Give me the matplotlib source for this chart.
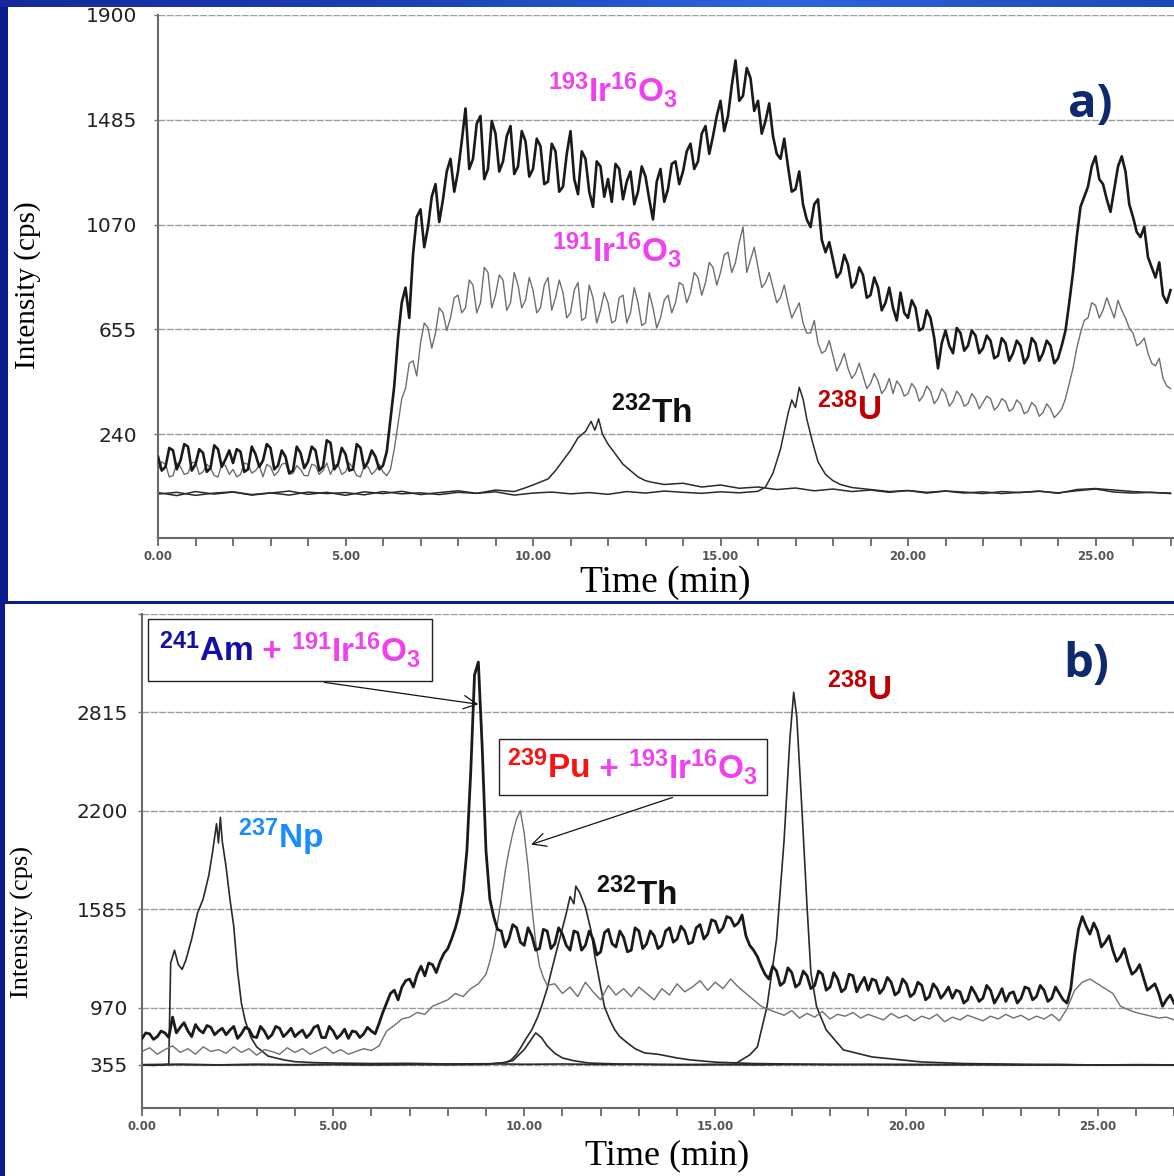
import numpy as np
import matplotlib.pyplot as plt
from matplotlib.patches import Rectangle
from matplotlib.colors import LinearSegmentedColormap
from matplotlib.offsetbox import TextArea, HPacker, AnnotationBbox

plt.rcParams['mathtext.default'] = 'regular'

# ---------------- panel a) ----------------
# readings every 0.2 min (main) and the in-between readings (mid, at +0.1 min)
ir193_a_main = [150, 110, 175, 135, 190, 120, 165, 105, 180, 140,
                125, 170, 100, 160, 135, 185, 115, 150, 95, 165,
                130, 175, 110, 205, 120, 160, 100, 185, 130, 150,
                115, 300, 620, 820, 950, 1130, 1060, 1230, 1170, 1330,
                1280, 1530, 1330, 1500, 1290, 1430, 1320, 1460, 1300, 1400,
                1290, 1380, 1240, 1360, 1220, 1440, 1190, 1330, 1140, 1300,
                1250, 1310, 1170, 1280, 1200, 1260, 1090, 1290, 1210, 1320,
                1280, 1390, 1320, 1460, 1420, 1560, 1500, 1720, 1580, 1650,
                1560, 1480, 1420, 1330, 1300, 1210, 1150, 1060, 1170, 960,
                930, 880, 910, 840, 870, 790, 820, 760, 740, 800,
                700, 740, 660, 700, 500, 650, 560, 640, 590, 630,
                580, 610, 550, 600, 560, 590, 545, 600, 560, 590,
                540, 650, 880, 1140, 1220, 1340, 1230, 1120, 1300, 1280,
                1100, 1020, 940, 860, 790, 810]
ir193_a_mid = [95, 185, 100, 200, 95, 180, 90, 195, 110, 175,
               180, 90, 190, 110, 200, 100, 175, 85, 190, 105,
               190, 95, 215, 100, 185, 95, 200, 105, 175, 100,
               170, 430, 760, 700, 1100, 980, 1180, 1080, 1280, 1200,
               1400, 1290, 1470, 1250, 1480, 1280, 1420, 1270, 1440, 1260,
               1410, 1230, 1390, 1200, 1350, 1250, 1360, 1200, 1320, 1180,
               1160, 1290, 1240, 1150, 1300, 1170, 1240, 1160, 1310, 1230,
               1360, 1290, 1430, 1350, 1500, 1440, 1620, 1560, 1690, 1520,
               1430, 1550, 1350, 1410, 1200, 1280, 1090, 1150, 1010, 1000,
               860, 950, 820, 900, 780, 860, 730, 820, 690, 720,
               770, 650, 730, 620, 600, 590, 660, 570, 650, 560,
               630, 540, 620, 530, 610, 520, 620, 530, 610, 520,
               590, 760, 1020, 1180, 1300, 1250, 1170, 1210, 1340, 1150,
               1040, 1060, 900, 920, 760]

ir191_a_main = [95, 120, 75, 110, 85, 130, 90, 105, 70, 115,
                100, 80, 120, 95, 70, 110, 90, 125, 85, 100,
                75, 115, 95, 80, 120, 90, 105, 70, 110, 95,
                90, 100, 280, 420, 530, 600, 660, 640, 720, 700,
                790, 740, 830, 760, 880, 790, 850, 760, 830, 770,
                810, 740, 860, 780, 800, 720, 840, 700, 780, 730,
                760, 690, 790, 720, 760, 680, 740, 700, 790, 760,
                830, 800, 860, 840, 900, 880, 960, 920, 1060, 930,
                900, 840, 820, 780, 760, 730, 680, 640, 600, 570,
                550, 520, 500, 480, 470, 440, 450, 420, 400, 430,
                400, 420, 390, 410, 380, 400, 370, 390, 360, 380,
                365, 380, 350, 370, 340, 360, 330, 350, 325, 340,
                320, 380, 500, 640, 700, 750, 730, 740, 770, 700,
                640, 600, 560, 510, 460, 420]
ir191_a_mid = [130, 70, 125, 80, 125, 80, 120, 75, 120, 80,
               70, 125, 85, 115, 120, 75, 120, 80, 115, 75,
               120, 80, 125, 115, 80, 125, 75, 115, 80, 120,
               75, 180, 380, 520, 470, 680, 580, 740, 650, 780,
               720, 850, 720, 900, 740, 870, 730, 880, 740, 860,
               720, 830, 730, 850, 700, 810, 690, 830, 680, 800,
               680, 780, 680, 820, 670, 800, 660, 770, 720, 840,
               760, 880, 790, 920, 830, 950, 880, 1000, 880, 980,
               820, 880, 760, 830, 700, 760, 640, 690, 560, 610,
               490, 560, 460, 520, 420, 480, 400, 460, 450, 390,
               440, 370, 430, 360, 420, 350, 410, 350, 400, 340,
               390, 335, 380, 330, 375, 320, 365, 310, 360, 305,
               340, 440, 580, 690, 760, 700, 780, 700, 730, 660,
               590, 620, 520, 540, 430]

t_th_a = [0, 0.5, 1, 1.5, 2, 2.5, 3, 3.5, 4, 4.5, 5, 5.5, 6, 6.5, 7, 7.5, 8, 8.5, 9, 9.5,
          9.8, 10.0, 10.2, 10.4, 10.6, 10.8, 11.0, 11.2, 11.4, 11.55, 11.65, 11.75, 11.85,
          12.0, 12.2, 12.4, 12.6, 12.8, 13.0, 13.2, 13.5,
          14, 14.5, 15, 15.5, 16, 16.5, 17, 17.5, 18, 18.5, 19, 19.5, 20, 20.5, 21, 21.5,
          22, 22.5, 23, 23.5, 24, 24.5, 25, 25.5, 26, 26.5, 27]
th_a = [8, -4, 12, 2, 10, -2, 6, 14, 1, 9, -3, 11, 4, 13, 0, 8, 15, 5, 18, 12,
        27, 38, 50, 62, 95, 135, 175, 225, 250, 290, 255, 300, 240,
        200, 160, 120, 95, 70, 55, 48, 40,
        45, 30, 38, 25, 30, 20, 26, 15, 22, 12, 18, 9, 16, 6, 14, 10,
        4, 12, 8, 14, 5, 20, 24, 18, 12, 8, 6]

t_u_a = [0, 0.5, 1, 1.5, 2, 2.5, 3, 3.5, 4, 4.5, 5, 5.5, 6, 6.5, 7, 7.5, 8, 8.5, 9, 9.5,
         10, 10.5, 11, 11.5, 12, 12.5, 13, 13.5, 14, 14.5, 15, 15.5, 16,
         16.2, 16.4, 16.6, 16.8, 16.9, 17.0, 17.1, 17.2, 17.3, 17.45, 17.6, 17.8, 18.0, 18.2, 18.5,
         19, 19.5, 20, 20.5, 21, 21.5, 22, 22.5, 23, 23.5, 24, 24.5, 25, 25.5, 26, 26.5, 27]
u_a = [2, 9, -3, 6, 11, 0, 7, -2, 10, 4, 8, -1, 12, 3, 7, 0, 9, 5, 11, -2,
       6, 10, 3, 8, 1, 12, 6, 14, 9, 5, 11, 7, 13,
       30, 85, 180, 320, 375, 345, 425, 380, 300, 210, 130, 80, 55, 40, 28,
       20, 12, 16, 9, 14, 6, 11, 4, 9, 13, 7, 15, 22, 10, 6, 9, 4]

yticks_a = [240, 655, 1070, 1485, 1900]

# ---------------- panel b) ----------------
k_b_main0 = [640, 690, 660, 700, 870, 760, 720, 790, 700, 760,
             720, 680, 770, 690, 740, 650, 720, 680, 750, 700,
             660, 730, 690, 780, 650, 720, 680, 640, 710, 690,
             720, 800, 1000, 1080, 1100, 1150, 1180, 1170, 1240, 1260,
             1340, 1470]
k_b_mid0 = [700, 630, 720, 650, 700, 810, 660, 730, 780, 680,
            750, 730, 640, 760, 660, 770, 640, 770, 660, 750,
            700, 650, 760, 650, 770, 640, 740, 720, 650, 760,
            690, 920, 1060, 1020, 1140, 1100, 1230, 1250, 1190, 1310,
            1400]
k_b_peak = [1560, 1700, 1950, 2440, 3050, 3130, 2600, 1950, 1650, 1540]  # 8.3 ... 9.2
k_b_93 = 1460
k_b_main1 = [1450, 1400, 1470, 1360, 1420, 1340, 1450, 1370, 1430, 1330,
             1440, 1360, 1400, 1320, 1460, 1350, 1410, 1330, 1450, 1370,
             1420, 1360, 1470, 1400, 1450, 1380, 1490, 1430, 1510, 1470,
             1530, 1500, 1420, 1330, 1230, 1150, 1200, 1130, 1190, 1120,
             1170, 1110, 1180, 1100, 1150, 1090, 1170, 1120, 1080, 1140,
             1090, 1130, 1070, 1120, 1060, 1110, 1040, 1090, 1060, 1030,
             1070, 1020, 1060, 1030, 1080, 1040, 1010, 1070, 1030, 1090,
             1040, 1080, 1030, 1060, 1000, 1300, 1540, 1430, 1450, 1380,
             1330, 1290, 1250, 1200, 1160, 1100, 1060, 1020, 1000]
k_b_mid1 = [1350, 1490, 1380, 1470, 1330, 1460, 1340, 1470, 1360, 1450,
            1330, 1450, 1300, 1440, 1370, 1450, 1320, 1470, 1340, 1450,
            1340, 1450, 1380, 1480, 1370, 1470, 1400, 1520, 1440, 1540,
            1480, 1550, 1360, 1290, 1180, 1230, 1110, 1220, 1100, 1200,
            1090, 1200, 1080, 1190, 1070, 1180, 1070, 1160, 1150, 1060,
            1160, 1050, 1150, 1040, 1130, 1020, 1120, 1030, 1100, 1080,
            1000, 1100, 1010, 1110, 1000, 1090, 1060, 1000, 1100, 1020,
            1110, 1010, 1100, 1020, 1090, 1460, 1480, 1500, 1350, 1420,
            1260, 1340, 1180, 1240, 1080, 1120, 980, 1050]

t_g_b = np.round(np.concatenate([np.arange(46) * 0.2, 9.1 + np.arange(16) * 0.1,
                                 10.8 + np.arange(82) * 0.2]), 2)
g_b = [500, 540, 470, 520, 560, 490, 530, 470, 550, 500,
       520, 480, 550, 490, 530, 460, 520, 500, 470, 540,
       490, 530, 470, 510, 550, 480, 520, 470, 500, 530,
       510, 560, 720, 780, 850, 870, 920, 900, 980, 1000,
       1020, 1060, 1040, 1090, 1120, 1180,
       1260, 1360, 1500, 1650, 1820, 1950, 2060, 2150, 2200, 2060, 1850, 1600, 1380, 1230, 1160, 1110,
       1120, 1060, 1100, 1040, 1130, 1070, 1020, 1110, 1050, 1090,
       1040, 1100, 1060, 1020, 1090, 1050, 1120, 1070, 1100, 1140,
       1080, 1130, 1090, 1150, 1100, 1060, 1020, 980, 950, 920,
       890, 940, 860, 910, 870, 930, 850, 900, 880, 920,
       860, 900, 870, 840, 910, 860, 890, 830, 880, 850,
       900, 820, 870, 840, 890, 860, 830, 880, 850, 900,
       860, 890, 840, 880, 850, 900, 830, 960, 1080, 1130,
       1150, 1120, 1090, 1060, 980, 950, 920, 900, 880, 860, 870, 840]

t_np_b = [0, 0.3, 0.6, 0.7, 0.75, 0.85, 0.95, 1.05, 1.15, 1.3, 1.45, 1.6, 1.75, 1.85, 1.95,
          2.0, 2.05, 2.1, 2.2, 2.3, 2.4, 2.5, 2.6, 2.7, 2.85, 3.0, 3.3, 3.7, 4.0, 4.5,
          5, 6, 7, 8, 9, 10, 11, 12, 13, 14, 15, 16, 17, 18, 19, 20, 21, 22, 23, 24, 25, 26, 27]
np_b = [355, 350, 358, 362, 1250, 1330, 1240, 1210, 1270, 1400, 1560, 1650, 1800, 1950, 2120,
        2000, 2160, 2010, 1850, 1650, 1480, 1200, 1000, 830, 650, 550, 450, 410, 390, 380,
        375, 370, 372, 365, 368, 362, 365, 360, 362, 358, 360, 356, 360, 358, 362, 357, 360,
        358, 356, 358, 355, 357, 355]

t_th_b = [0, 1, 2, 3, 4, 5, 6, 7, 8, 9, 9.5, 9.66, 9.8, 9.92, 10.05, 10.2, 10.35, 10.45, 10.6,
          10.7, 10.85, 10.97, 11.1, 11.2, 11.3, 11.35, 11.45, 11.6, 11.75, 11.85, 12.0, 12.1,
          12.25, 12.37, 12.5, 12.7, 12.9, 13.15, 13.5, 14.0, 14.35, 15, 16, 17, 18, 19, 20,
          21, 22, 23, 24, 25, 26, 27]
th_b = [358, 362, 356, 360, 357, 361, 356, 359, 362, 365, 380, 409, 470, 549, 640, 733, 870,
        976, 1090, 1189, 1330, 1439, 1560, 1665, 1620, 1730, 1690, 1600, 1450, 1289, 1100,
        976, 830, 733, 660, 592, 530, 484, 470, 430, 409, 385, 370, 365, 362, 358, 361, 357,
        360, 356, 358, 355, 357, 355]

t_u_b = [0, 1, 2, 3, 4, 5, 6, 7, 8, 9, 9.4, 9.7, 10.0, 10.15, 10.3, 10.45, 10.6, 10.8, 11.0,
         11.3, 11.7, 12.5, 13.5, 14.5, 15.5, 15.9, 16.1, 16.35, 16.6, 16.8, 16.95, 17.05,
         17.13, 17.27, 17.4, 17.5, 17.65, 17.9, 18.35, 19.1, 20.4, 21.5, 22.5, 23.5, 24.5,
         25.5, 26.5, 27]
u_b = [356, 359, 355, 361, 357, 360, 358, 362, 357, 360, 375, 400, 520, 610, 700, 650, 560,
       480, 430, 400, 375, 365, 360, 358, 362, 463, 549, 976, 1395, 2021, 2647, 2941, 2790,
       2190, 1602, 1189, 976, 733, 517, 441, 387, 370, 365, 360, 356, 355, 357, 355]

yticks_b = [355, 970, 1585, 2200, 2815, 3430]
ylabels_b = ['355', '970', '1585', '2200', '2815', '']

xticks = [0, 5, 10, 15, 20, 25]

# put main + in-between readings on one 0.1-min time axis
t_fine = np.round(np.arange(271) * 0.1, 1)
ir193_a = np.empty(271)
ir193_a[0::2] = ir193_a_main
ir193_a[1::2] = ir193_a_mid
ir191_a = np.empty(271)
ir191_a[0::2] = ir191_a_main
ir191_a[1::2] = ir191_a_mid
k_b = np.empty(271)
k_b[0:83:2] = k_b_main0
k_b[1:83:2] = k_b_mid0
k_b[83:93] = k_b_peak
k_b[93] = k_b_93
k_b[94::2] = k_b_main1
k_b[95::2] = k_b_mid1

# ---------------- figure ----------------
W, H = 1174, 1176
fig = plt.figure(figsize=(W / 100, H / 100), dpi=100, facecolor='#0b1d8c')

# white picture areas of the slide
fig.patches.append(Rectangle((8 / W, 1 - 601 / H), 1, 594 / H, transform=fig.transFigure,
                             fc='white', ec='none', zorder=-2))
fig.patches.append(Rectangle((5 / W, 0), 1, 572 / H, transform=fig.transFigure,
                             fc='white', ec='none', zorder=-2))
strip = fig.add_axes([0, 1 - 7 / H, 1, 7 / H])
strip.imshow(np.linspace(0, 1, 256)[None, :], aspect='auto',
             cmap=LinearSegmentedColormap.from_list('slide', ['#142a9c', '#1b3fb4', '#2d66dc', '#1d47b8']))
strip.axis('off')

grey_grid = dict(color='#9c9c9c', lw=1.0, ls=(0, (5, 1)))
mag = '#f040f0'
lab_font = dict(family='Liberation Sans', weight='bold', size=24)


def style_axes(ax, ypad):
    for s in ['top', 'right']:
        ax.spines[s].set_visible(False)
    for s in ['left', 'bottom']:
        ax.spines[s].set_color('#6a6a6a')
        ax.spines[s].set_linewidth(1.5)
    ax.set_facecolor('none')
    ax.grid(axis='y', **grey_grid)
    ax.set_xticks(xticks)
    ax.set_xticklabels(['%.2f' % v for v in xticks], fontsize=8.5, fontweight='bold', color='#555555')
    ax.set_xticks(range(0, 28), minor=True)
    ax.tick_params(axis='x', which='both', direction='out', length=6, width=1.3, color='#666666', pad=3)
    ax.tick_params(axis='y', direction='out', length=3, width=1, color='#777777', pad=ypad,
                   labelsize=14.5, labelcolor='#222222')
    ax.tick_params(axis='y', which='minor', left=False)


# ---- panel a ----
ax1 = fig.add_axes([158 / W, 1 - 538 / H, 1 - 158 / W, 523 / H])
ax1.plot(t_th_a, th_a, color='#2a2a2a', lw=1.1, zorder=2)
ax1.plot(t_u_a, u_a, color='#2a2a2a', lw=1.1, zorder=2)
ax1.plot(t_fine, ir191_a, color='#6e6e6e', lw=1.0, zorder=3)
ax1.plot(t_fine, ir193_a, color='#1a1a1a', lw=1.9, zorder=4)
ax1.set_xlim(0, 1016 / 37.5)
ax1.set_ylim(-172, 1900)
ax1.set_yticks(yticks_a)
ax1.set_yticklabels([str(v) for v in yticks_a])
style_axes(ax1, 12)

ax1.text(10.4, 1604, r'$^{193}$Ir$^{16}$O$_3$', color=mag, ha='left', va='center', **lab_font)
ax1.text(10.51, 969, r'$^{191}$Ir$^{16}$O$_3$', color=mag, ha='left', va='center', **lab_font)
ax1.text(12.08, 323, r'$^{232}$Th', color='#111111', ha='left', va='center', **lab_font)
ax1.text(17.57, 335, r'$^{238}$U', color='#c00000', ha='left', va='center', **lab_font)
ax1.text(24.85, 1544, 'a)', color='#0d2a6e', ha='center', va='center',
         family='Open Sans', weight='bold', size=34)

# ---- panel b ----
k = 57 / 98.3


def fwd(v):
    v = np.asarray(v, dtype=float)
    return np.where(v >= 970, v, 970 - (970 - v) * k)


def inv(u):
    u = np.asarray(u, dtype=float)
    return np.where(u >= 970, u, 970 - (970 - u) / k)


ax2 = fig.add_axes([142 / W, 1 - 1108 / H, 1 - 142 / W, 494 / H])
ax2.set_yscale('function', functions=(fwd, inv))
ax2.plot(t_np_b, np_b, color='#2a2a2a', lw=1.2, zorder=2)
ax2.plot(t_th_b, th_b, color='#2a2a2a', lw=1.2, zorder=2)
ax2.plot(t_u_b, u_b, color='#2a2a2a', lw=1.2, zorder=2)
ax2.plot(t_g_b, g_b, color='#6e6e6e', lw=1.0, zorder=3)
ax2.plot(t_fine, k_b, color='#1a1a1a', lw=2.0, zorder=4)
ax2.set_xlim(0, 1032 / 38.4)
ax2.set_ylim(-109, 3430)
ax2.set_yticks(yticks_b)
ax2.set_yticklabels(ylabels_b)
ax2.yaxis.set_minor_locator(plt.NullLocator())
style_axes(ax2, 7)

ax2.text(2.5, 2033, r'$^{237}$Np', color='#1a8cff', ha='left', va='center', **lab_font)
ax2.text(11.875, 1677, r'$^{232}$Th', color='#111111', ha='left', va='center', **lab_font)
ax2.text(17.92, 2959, r'$^{238}$U', color='#c00000', ha='left', va='center', **lab_font)
ax2.text(24.69, 3116, 'b)', color='#0d2a6e', ha='center', va='center',
         family='Open Sans', weight='bold', size=34)


def iso_box(ax, parts, xy, pad):
    areas = [TextArea(s, textprops=dict(color=c, **lab_font)) for s, c in parts]
    pack = HPacker(children=areas, align='baseline', pad=pad, sep=0)
    ab = AnnotationBbox(pack, xy, xycoords='data', frameon=True, box_alignment=(0.5, 0.5),
                        pad=0, annotation_clip=False,
                        bboxprops=dict(ec='#222222', lw=1.0, fc='white'))
    ab.set_zorder(6)
    ax.add_artist(ab)


iso_box(ax2, [(r'$^{241}$Am', '#1010a8'), (' + ', mag), (r'$^{191}$Ir$^{16}$O$_3$', mag)],
        (3.88, 3207), 8)
iso_box(ax2, [(r'$^{239}$Pu', '#ff1010'), (' + ', mag), (r'$^{193}$Ir$^{16}$O$_3$', mag)],
        (12.84, 2475), 6)

arrow = dict(arrowstyle='->', color='#111111', lw=0.9, shrinkA=0, shrinkB=0, mutation_scale=24)
ax2.annotate('', xy=(8.8, 2866), xytext=(4.77, 3003), arrowprops=arrow, annotation_clip=False)
ax2.annotate('', xy=(10.18, 1990), xytext=(13.88, 2284), arrowprops=arrow, annotation_clip=False)

# axis titles
fig.text(28 / W, 1 - 285 / H, 'Intensity (cps)', rotation=90, family='Liberation Serif',
         size=21, ha='center', va='center')
fig.text(22 / W, 1 - 922 / H, 'Intensity (cps)', rotation=90, family='Liberation Serif',
         size=19, ha='center', va='center')
fig.text(665 / W, 1 - 583 / H, 'Time (min)', family='Liberation Serif', size=27,
         ha='center', va='center')
fig.text(667 / W, 1 - 1156 / H, 'Time (min)', family='Liberation Serif', size=26,
         ha='center', va='center')

fig.savefig('out.png', dpi=100, facecolor=fig.get_facecolor())
